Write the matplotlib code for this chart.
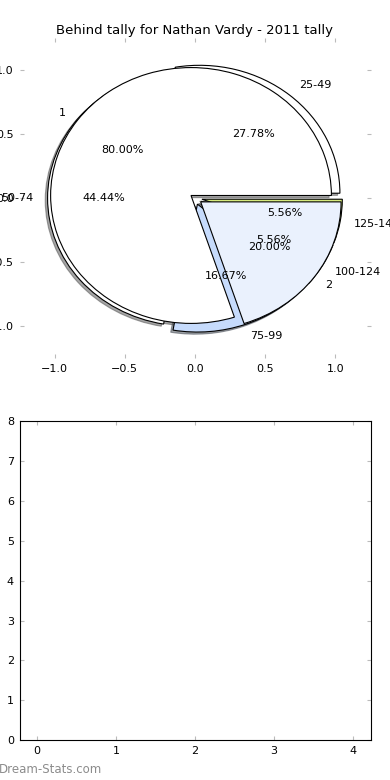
import numpy as np
import matplotlib
matplotlib.use("Agg")
import matplotlib.pyplot as plt

# tally by range
range_labels = ['25-49', '50-74', '75-99', '100-124', '125-149']
range_counts = [5, 8, 3, 1, 1]
range_colors = ['white', 'white', '#c6dbfc', '#dfe9f9', '#d6ea7c']

# tally by number
num_labels = ['1', '2']
num_counts = [4, 1]
num_colors = ['white', '#eaf1fd']

title = 'Behind tally for Nathan Vardy - 2011 tally'

fig = plt.figure(figsize=(3.9, 7.8), dpi=100)

shadow = {'ox': -0.012, 'oy': -0.012}
wedge_style = {'edgecolor': 'black', 'linewidth': 0.8}

ax1 = fig.add_axes([0.05, 0.541, 0.9, 0.41])
ax1.pie(range_counts, labels=range_labels, colors=range_colors,
        explode=[0.05] * len(range_counts), shadow=shadow, autopct='%.2f%%',
        frame=True, textprops={'fontsize': 8}, wedgeprops=wedge_style)
ax1.pie(num_counts, labels=num_labels, colors=num_colors,
        explode=[0.035, 0.05], shadow=shadow, autopct='%.2f%%',
        frame=True, textprops={'fontsize': 8}, wedgeprops=wedge_style)
ax1.set_aspect('auto')
ax1.set_xlim(-1.25, 1.25)
ax1.set_ylim(-1.25, 1.25)
ax1.set_xticks([-1.0, -0.5, 0.0, 0.5, 1.0])
ax1.set_yticks([-1.0, -0.5, 0.0, 0.5, 1.0])
for s in ax1.spines.values():
    s.set_visible(False)
ax1.tick_params(direction='in', length=3, color='#bbbbbb', labelsize=8,
                top=True, right=True, pad=4)
ax1.set_title(title, fontsize=9.5, pad=3)

ax2 = fig.add_axes([0.05, 0.051, 0.9, 0.409])
ax2.set_xlim(-0.22, 4.22)
ax2.set_ylim(0, 8)
ax2.set_xticks(range(5))
ax2.set_yticks(range(9))
ax2.tick_params(direction='in', length=3, color='#bbbbbb', labelsize=8,
                top=True, right=True, pad=4)

fig.text(-0.003, 0.013, 'Dream-Stats.com', fontsize=8.5, color='#8c8c8c',
         ha='left', va='center')

fig.savefig('out.png', dpi=100)
